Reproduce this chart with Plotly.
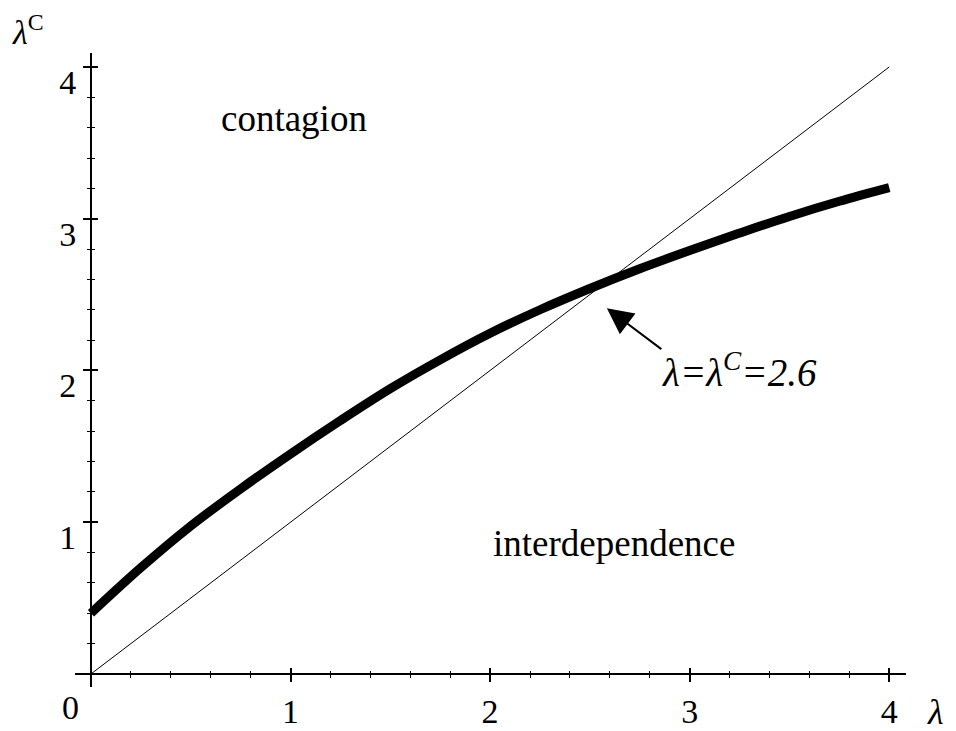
import plotly.graph_objects as go

# curve lambda^C(lambda)
lam = [0, 0.25, 0.5, 0.75, 1.0, 1.25, 1.5, 1.75, 2.0, 2.25, 2.5, 2.75, 3.0, 3.25, 3.5, 3.75, 4.0]
lam_c = [0.40, 0.70, 0.975, 1.22, 1.45, 1.67, 1.88, 2.07, 2.245, 2.40, 2.54, 2.67, 2.79, 2.905, 3.015, 3.115, 3.205]

# 45 degree line
diag_x = [0, 4]
diag_y = [0, 4]

x_ticks = [1, 2, 3, 4]
y_ticks = [1, 2, 3, 4]

x_range = [-0.080, 4.084]
y_range = [-0.086, 4.092]
x_pos = 0.0193   # where lambda = 0 sits across the plot width
y_pos = 0.0205   # where lambda^C = 0 sits up the plot height

serif = "Liberation Serif"

fig = go.Figure()
fig.add_trace(go.Scatter(x=lam, y=lam_c, mode="lines", line=dict(color="black", width=9, shape="spline"),
                         showlegend=False, hoverinfo="skip"))
fig.add_trace(go.Scatter(x=diag_x, y=diag_y, mode="lines", line=dict(color="black", width=1),
                         showlegend=False, hoverinfo="skip", xaxis="x2", yaxis="y2"))

axis_common = dict(showgrid=False, zeroline=False, color="black", automargin=False,
                   tickfont=dict(family=serif, size=34, color="black"))

# page body has an 8px margin, so the figure is 8px smaller each way
fig.update_layout(
    width=948, height=723,
    margin=dict(l=67, r=50, t=45, b=44),
    paper_bgcolor="white", plot_bgcolor="white",
    xaxis=dict(range=x_range, anchor="free", position=y_pos, showline=True, linewidth=2, linecolor="black",
               tickvals=x_ticks, ticks="outside", ticklen=7, tickwidth=1.5, tickcolor="black",
               minor=dict(tick0=0, dtick=0.2, ticks="outside", ticklen=3, tickwidth=1, tickcolor="black"),
               **axis_common),
    yaxis=dict(range=y_range, anchor="free", position=x_pos, showline=True, linewidth=2, linecolor="black",
               tickvals=y_ticks, ticks="outside", ticklen=7, tickwidth=1.5, tickcolor="black",
               ticklabelshift=15,
               minor=dict(tick0=0, dtick=0.2, ticks="outside", ticklen=3, tickwidth=1, tickcolor="black"),
               **axis_common),
    xaxis2=dict(range=x_range, overlaying="x", anchor="free", position=y_pos, showline=False,
                tickvals=x_ticks, ticks="inside", ticklen=6, tickwidth=1.5, tickcolor="black",
                showticklabels=False, automargin=False,
                minor=dict(tick0=0, dtick=0.2, ticks="inside", ticklen=3, tickwidth=1, tickcolor="black"),
                showgrid=False, zeroline=False),
    yaxis2=dict(range=y_range, overlaying="y", anchor="free", position=x_pos, showline=False,
                tickvals=y_ticks, ticks="inside", ticklen=6, tickwidth=1.5, tickcolor="black",
                showticklabels=False, automargin=False,
                minor=dict(tick0=0, dtick=0.2, ticks="inside", ticklen=3, tickwidth=1, tickcolor="black"),
                showgrid=False, zeroline=False),
)

txt = dict(family=serif, size=37, color="black")
fig.add_annotation(x=1.017, y=3.66, text="contagion", showarrow=False, font=txt)
fig.add_annotation(x=2.62, y=0.86, text="interdependence", showarrow=False, font=txt)
fig.add_annotation(x=3.25, y=2.0, text="<i>λ=λ<sup>C</sup>=2.6</i>", showarrow=False,
                   font=dict(family=serif, size=39, color="black"))
fig.add_annotation(x=2.585, y=2.41, ax=56, ay=42, text="", showarrow=True,
                   arrowhead=2, arrowsize=2.6, arrowwidth=2, arrowcolor="black")
fig.add_annotation(x=0, y=0, text="0", showarrow=False, xanchor="center", yanchor="middle",
                   xshift=-20, yshift=-34, font=dict(family=serif, size=34, color="black"))
fig.add_annotation(xref="paper", yref="paper", x=1.036, y=-0.040, text="<i>λ</i>", showarrow=False,
                   xanchor="center", yanchor="middle", borderpad=0,
                   font=dict(family=serif, size=36, color="black"))
fig.add_annotation(xref="paper", yref="paper", x=-0.056, y=1.036, text="<i>λ</i><sup>C</sup>",
                   showarrow=False, xanchor="center", yanchor="middle", borderpad=0,
                   font=dict(family=serif, size=34, color="black"))

fig.write_html("out.html")
